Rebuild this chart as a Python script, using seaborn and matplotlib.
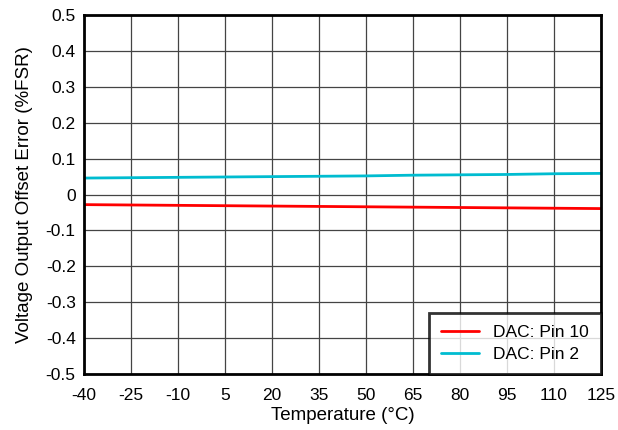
import numpy as np
import pandas as pd
import matplotlib
matplotlib.use("Agg")
import matplotlib.pyplot as plt
import seaborn as sns

# temperature sweep and offset error readings
temps = [-40, -25, -10, 5, 20, 35, 50, 65, 80, 95, 110, 125]
pin10 = [-0.028, -0.029, -0.030, -0.031, -0.032, -0.033, -0.034, -0.035, -0.036, -0.037, -0.038, -0.039]
pin2 = [0.046, 0.047, 0.048, 0.049, 0.050, 0.051, 0.052, 0.054, 0.055, 0.056, 0.058, 0.059]
series_names = ["DAC: Pin 10", "DAC: Pin 2"]

df = pd.DataFrame({"temp": temps * 2,
                   "err": pin10 + pin2,
                   "series": [series_names[0]] * len(temps) + [series_names[1]] * len(temps)})

sns.set_style("white", {"text.color": "black", "axes.labelcolor": "black",
                        "xtick.color": "black", "ytick.color": "black"})
plt.rcParams['font.family'] = ['Liberation Sans', 'DejaVu Sans']
plt.rcParams['axes.unicode_minus'] = False

fig = plt.figure(figsize=(6.18, 4.30), dpi=100)
ax = fig.add_axes([0.136, 0.13, 0.836, 0.835])

sns.lineplot(data=df, x="temp", y="err", hue="series",
             palette=["#ff0000", "#00bcd0"], linewidth=2, ax=ax)

ax.set_xlim(-40, 125)
ax.set_ylim(-0.5, 0.5)
ax.set_xticks(np.arange(-40, 126, 15))
ax.set_yticks(np.round(np.arange(-0.5, 0.51, 0.1), 1))
ax.set_yticklabels(["-0.5", "-0.4", "-0.3", "-0.2", "-0.1", "0",
                    "0.1", "0.2", "0.3", "0.4", "0.5"])
ax.grid(True, color="#444444", linewidth=0.9)
ax.tick_params(labelsize=12.5, length=0, labelcolor="black")
ax.tick_params(axis="x", pad=10)
ax.tick_params(axis="y", pad=6)
for s in ax.spines.values():
    s.set_color("black")
    s.set_linewidth(2)

ax.set_xlabel("Temperature (°C)", fontsize=13.5, labelpad=3, color="black")
ax.set_ylabel("Voltage Output Offset Error (%FSR)", fontsize=13.5, labelpad=9, color="black")

leg = ax.legend(loc="lower right", fontsize=12.5, frameon=True, fancybox=False,
                borderaxespad=0, handlelength=2.2, handletextpad=0.8,
                borderpad=0.7, labelspacing=0.4)
leg.get_frame().set_edgecolor("black")
leg.get_frame().set_linewidth(2)
for t in leg.get_texts():
    t.set_color("black")

fig.savefig("out.png", dpi=100)
